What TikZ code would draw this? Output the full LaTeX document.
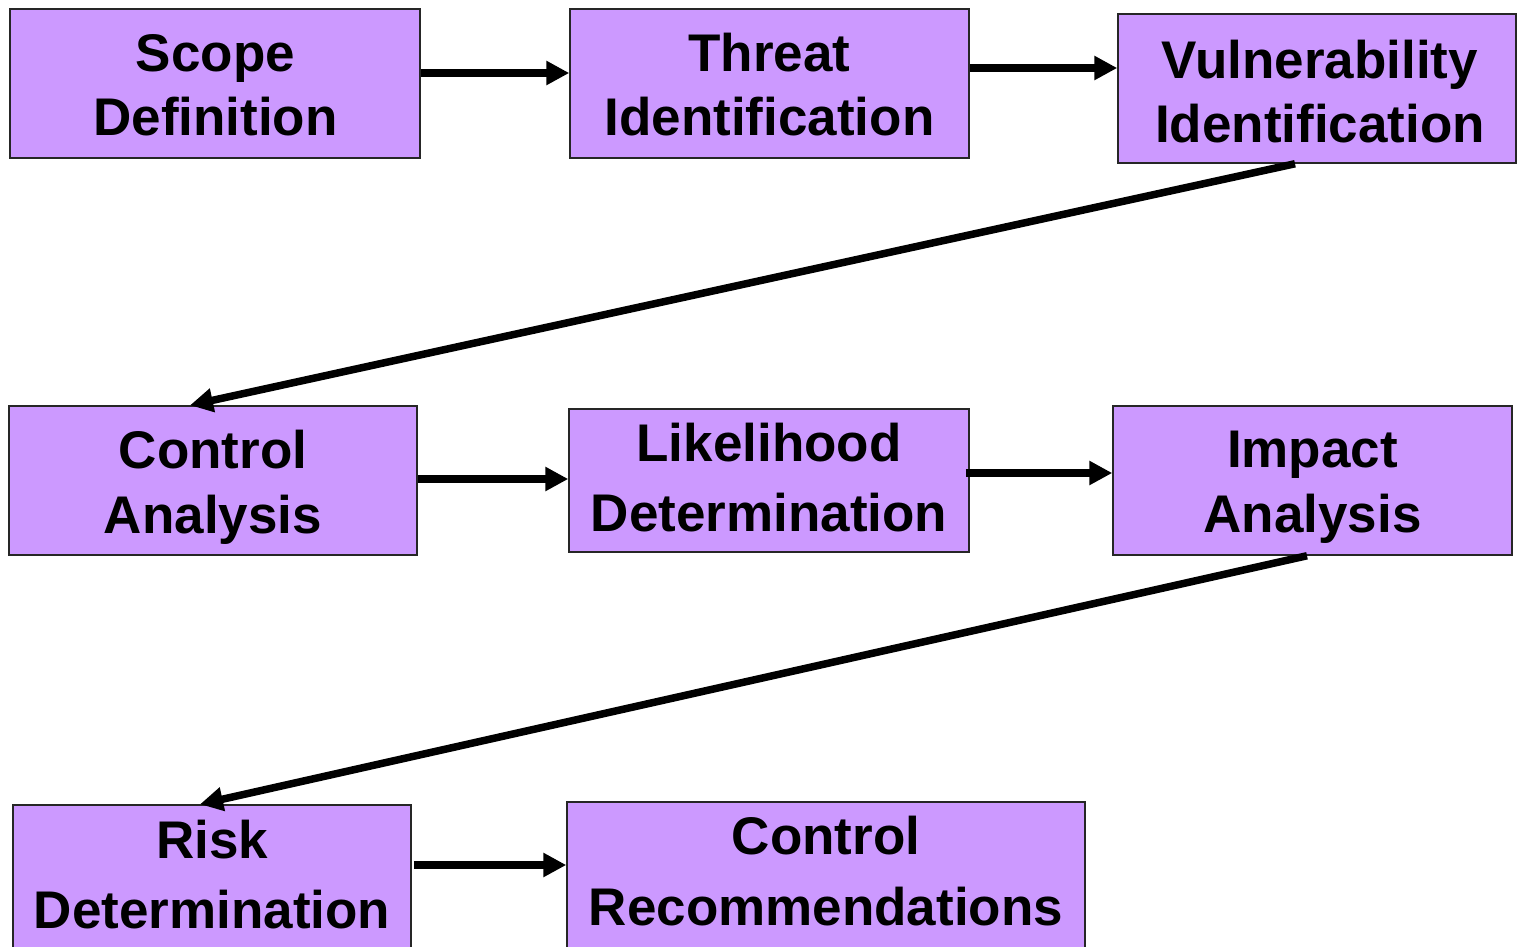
\documentclass[tikz,border=0pt]{standalone}
\usepackage{fontspec}
\setmainfont{Liberation Sans}
\usetikzlibrary{arrows.meta}
\begin{document}
\begin{tikzpicture}[x=1pt,y=-1pt,
  stage/.style={draw=black!85,line width=1.5pt,fill={rgb,255:red,204;green,153;blue,255},
    minimum width=#1,minimum height=149pt,inner sep=0pt},
  stage/.default=400pt,
  caption/.style={inner sep=0pt,align=center,font=\fontsize{53}{#1}\selectfont\bfseries},
  caption/.default=64,
  flow/.style={line width=7.5pt,-{Triangle[length=23pt,width=23pt]}}]
\useasboundingbox (0,0) rectangle (1518,946);
% first row
\node[stage=410pt] (scope) at (215,83.5) {};
\node[stage=399pt] (threat) at (769.5,83.5) {};
\node[stage=398pt] (vuln) at (1317,88.5) {};
% second row
\node[stage=408pt] (ctrl) at (213,480.5) {};
\node[stage=400pt,minimum height=143pt] (like) at (769,480.5) {};
\node[stage=399pt] (impact) at (1312.5,480.5) {};
% third row
\node[stage=398pt,minimum height=148pt] (risk) at (212,879) {};
\node[stage=518pt,minimum height=148pt] (rec) at (826,876) {};
% captions
\node[caption] (scopet) at (215.5,85) {Scope\\Definition};
\node[caption] (threatt) at (769.5,85) {Threat\\Identification};
\node[caption] (vulnt) at (1320,91.5) {Vulnerability\\Identification};
\node[caption=65] (ctrlt) at (213,487.5) {Control\\Analysis};
\node[caption=70] (liket) at (769,478) {Likelihood\\Determination};
\node[caption=65] (impactt) at (1312.5,487.5) {Impact\\Analysis};
\node[caption=70] (riskt) at (212,875) {Risk\\Determination};
\node[caption=71] (rect) at (826,871.5) {Control\\Recommendations};
% connectors
\draw[flow] ([yshift=10.5pt]scope.east) -- ([yshift=10.5pt]threat.west);
\draw[flow] ([yshift=15.5pt]threat.east) -- ([yshift=20.5pt]vuln.west);
\draw[flow] ([xshift=-22pt]vuln.south) -- ([xshift=-23pt]ctrl.north);
\draw[flow] ([yshift=1.5pt]ctrl.east) -- ([yshift=1.5pt]like.west);
\draw[flow] ([xshift=-4pt,yshift=7.5pt]like.east) -- ([yshift=7.5pt]impact.west);
\draw[flow] ([xshift=-5.5pt]impact.south) -- ([xshift=-12pt]risk.north);
\draw[flow] ([xshift=2pt,yshift=14pt]risk.east) -- ([yshift=11pt]rec.west);
\end{tikzpicture}
\end{document}
